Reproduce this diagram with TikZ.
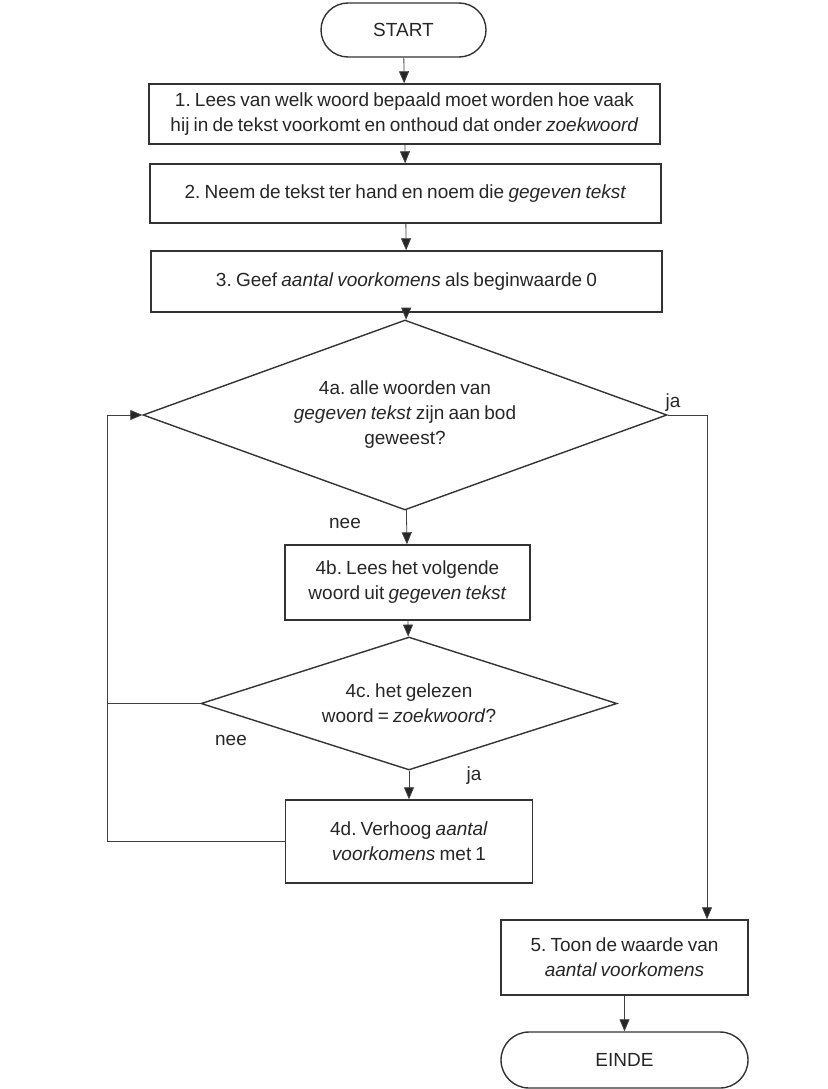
\documentclass[tikz,border=0pt]{standalone}
\usepackage{fontspec}
\setmainfont{Liberation Sans}
\usetikzlibrary{shapes.geometric,arrows.meta}
\frenchspacing
\newcommand{\chartfont}{\fontsize{19}{25}\selectfont\setlength{\spaceskip}{0.22em plus 0.1em}}

\begin{document}
\begin{tikzpicture}[x=1pt, y=-1pt, >={Triangle[length=12pt,width=10pt,fill=black!85]},
    every node/.style={font=\chartfont, text=black!85},
    box/.style={rectangle, draw=black!80, line width=1.4pt, align=center, inner sep=0pt},
    term/.style={rectangle, rounded corners=27pt, draw=black!80, line width=1.4pt, inner sep=0pt},
    decision/.style={diamond, draw=black!80, line width=1.4pt, align=center, inner sep=0pt, aspect=2.7},
    lbl/.style={inner sep=0pt},
    line/.style={draw=black!75, line width=0.8pt}]

            \useasboundingbox (0,0) rectangle (827,1089);

            % Nodes
            \node[term, minimum width=165pt, minimum height=54pt] (start) at (403.5,30) {START};
            \node[box, minimum width=511pt, minimum height=60pt] (s1) at (404.5,114)
                {1. Lees van welk woord bepaald moet worden hoe vaak\\hij in de tekst voorkomt en onthoud dat onder \textit{zoekwoord}};
            \node[box, minimum width=511pt, minimum height=59pt] (s2) at (405.5,193.5)
                {2. Neem de tekst ter hand en noem die \textit{gegeven tekst}};
            \node[box, minimum width=511pt, minimum height=61pt] (s3) at (406.5,281.5)
                {3. Geef \textit{aantal voorkomens} als beginwaarde 0};
            \node[decision, minimum width=524pt, minimum height=190pt] (d4a) at (405,415)
                {4a. alle woorden van\\\textit{gegeven tekst} zijn aan bod\\geweest?};
            \node[box, minimum width=245pt, minimum height=75pt] (s4b) at (407.5,582.5)
                {4b. Lees het volgende\\woord uit \textit{gegeven tekst}};
            \node[decision, minimum width=416pt, minimum height=133pt] (d4c) at (409,703.5)
                {4c. het gelezen\\woord = \textit{zoekwoord}?};
            \node[box, minimum width=247pt, minimum height=83pt] (s4d) at (409,841.5)
                {4d. Verhoog \textit{aantal}\\\textit{voorkomens} met 1};
            \node[box, minimum width=247pt, minimum height=75pt] (s5) at (624.5,957.5)
                {5. Toon de waarde van\\\textit{aantal voorkomens}};
            \node[term, minimum width=247pt, minimum height=56pt, rounded corners=28pt] (einde) at (624.5,1060) {EINDE};

            % Labels
            \node[lbl] (ja1) at (673,403) {ja};
            \node[lbl] (nee1) at (345,523) {nee};
            \node[lbl] (nee2) at (231,740) {nee};
            \node[lbl] (ja2) at (474,776) {ja};

            % Bends
            \coordinate (right) at (707,415);
            \coordinate (left) at (107,415);

            % Edges (directed)
            \draw[line, ->] (start) -- (s1);
            \draw[line, ->] (s1) -- (s2);
            \draw[line, ->] (s2) -- (s3);
            \draw[line, ->] (s3) -- (d4a);
            \draw[line, ->] (d4a) -- (s4b);
            \draw[line, ->] (s4b) -- (d4c);
            \draw[line, ->] (d4c) -- (s4d);
            \draw[line, ->] (d4a.east) -- (right) -- (right |- s5.north);
            \draw[line, ->] (s5) -- (einde);

            % Loop back to 4a
            \draw[line, ->] (d4c.west) -| (left) -- (d4a.west);
            \draw[line] (s4d.west) -| (left);
            \end{tikzpicture}
\end{document}
